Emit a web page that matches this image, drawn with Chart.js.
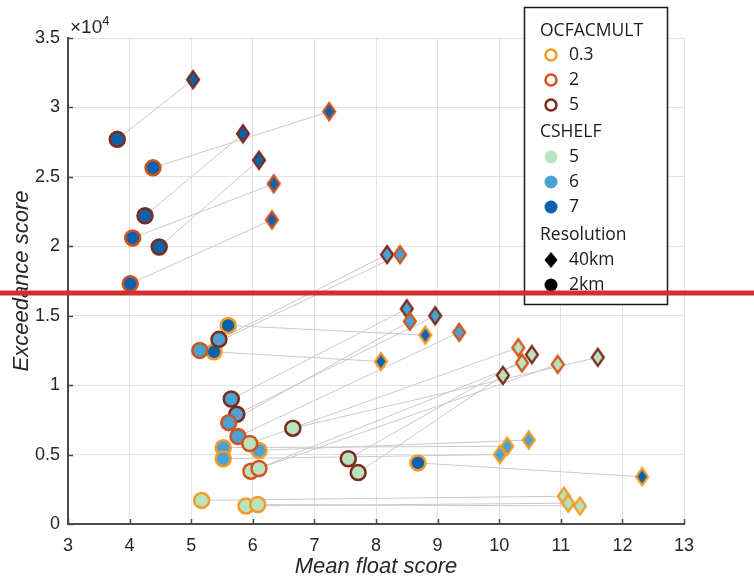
<!DOCTYPE html>
<html>
<head>
<meta charset="utf-8">
<script src="https://cdn.jsdelivr.net/npm/chart.js@4.4.1/dist/chart.umd.min.js"></script>
<style>
  html, body { margin: 0; padding: 0; background: #fff; }
  #wrap { width: 754px; height: 583px; position: relative; }
</style>
</head>
<body>
<div id="wrap"><canvas id="chart"></canvas></div>
<script>
// each run was done at 2km (circle) and 40km (diamond); a grey line joins the pair
const runOcf    = [5, 5, 5, 2, 2, 2, 0.3, 0.3, 0.3, 5, 5, 5, 2, 2, 2, 0.3, 0.3, 0.3, 5, 5, 5, 2, 2, 2, 0.3, 0.3, 0.3];
const runCshelf = [7, 7, 7, 7, 7, 7, 7, 7, 7, 6, 6, 6, 6, 6, 6, 6, 6, 6, 5, 5, 5, 5, 5, 5, 5, 5, 5];

const x2km  = [3.80, 4.25, 4.48, 4.38, 4.05, 4.01, 5.60, 5.37, 8.68, 5.45, 5.65, 5.74, 5.14, 5.61, 5.76, 6.10, 5.52, 5.52, 6.65, 7.55, 7.71, 5.95, 5.97, 6.10, 5.17, 5.89, 6.08];
const y2km  = [27700, 22200, 19950, 25650, 20600, 17300, 14300, 12400, 4400, 13300, 9000, 7900, 12500, 7300, 6300, 5300, 5500, 4700, 6900, 4700, 3700, 5800, 3800, 4000, 1700, 1300, 1400];
const x40km = [5.03, 5.84, 6.10, 7.24, 6.34, 6.31, 8.80, 8.08, 12.32, 8.18, 8.50, 8.96, 8.39, 8.55, 9.35, 10.48, 10.13, 10.01, 11.60, 10.53, 10.06, 10.31, 10.37, 10.95, 11.05, 11.12, 11.31];
const y40km = [32000, 28100, 26200, 29700, 24500, 21900, 13600, 11700, 3400, 19400, 15500, 15000, 19400, 14600, 13800, 6050, 5600, 5000, 12000, 12200, 10700, 12700, 11600, 11500, 2000, 1500, 1300];

const ocfLevels    = [0.3, 2, 5];
const cshelfLevels = [5, 6, 7];
const xTicks = [3, 4, 5, 6, 7, 8, 9, 10, 11, 12, 13];
const yTicks = [0, 5000, 10000, 15000, 20000, 25000, 30000, 35000];
const cutLine = 16640;   // red horizontal marker

const ocfEdge    = { 0.3: '#f39b27', 2: '#d4531c', 5: '#7c2a1c' };
const cshelfFill = { 5: '#b8e3bd', 6: '#4aa2d2', 7: '#0b62aa' };
const FONT = "'Liberation Sans', Arial, sans-serif";
const LEGEND_FONT = "'Open Sans', 'Noto Sans', sans-serif";
const INK = '#262626';

function diamondCanvas(fill, edge) {
    const w = 12, h = 17, lw = 2.2;
    const c = document.createElement('canvas');
    c.width = w + lw * 2 + 2;
    c.height = h + lw * 2 + 2;
    const g = c.getContext('2d');
    const cx = c.width / 2, cy = c.height / 2;
    g.beginPath();
    g.moveTo(cx, cy - h / 2);
    g.lineTo(cx + w / 2, cy);
    g.lineTo(cx, cy + h / 2);
    g.lineTo(cx - w / 2, cy);
    g.closePath();
    g.fillStyle = fill;
    g.fill();
    g.lineWidth = lw;
    g.strokeStyle = edge;
    g.stroke();
    return c;
}

const circleData  = x2km.map((x, i) => ({ x: x, y: y2km[i] }));
const diamondData = x40km.map((x, i) => ({ x: x, y: y40km[i] }));
const fills = runCshelf.map(c => cshelfFill[c]);
const edges = runOcf.map(o => ocfEdge[o]);
const diamondStyles = runOcf.map((o, i) => diamondCanvas(fills[i], edges[i]));

const linkSets = x2km.map((x, i) => ({
    data: [{ x: x, y: y2km[i] }, { x: x40km[i], y: y40km[i] }],
    showLine: true,
    borderColor: '#c9c9c9',
    borderWidth: 1,
    pointRadius: 0,
    order: 1
}));

// MATLAB-ish extras: inward ticks, x10^4 label, legend box, red cut line
const extrasPlugin = {
    id: 'extras',
    afterDraw(chart) {
        const ctx = chart.ctx;
        const xs = chart.scales.x, ys = chart.scales.y;
        const area = chart.chartArea;
        ctx.save();

        // inward ticks
        ctx.strokeStyle = '#4a4a4a';
        ctx.lineWidth = 1.5;
        ctx.beginPath();
        xTicks.forEach(v => {
            const px = Math.round(xs.getPixelForValue(v)) + 0.5;
            ctx.moveTo(px, area.bottom);
            ctx.lineTo(px, area.bottom - 5);
        });
        yTicks.forEach(v => {
            const py = Math.round(ys.getPixelForValue(v)) + 0.5;
            ctx.moveTo(area.left, py);
            ctx.lineTo(area.left + 5, py);
        });
        ctx.stroke();

        // exponent label
        ctx.fillStyle = INK;
        ctx.textBaseline = 'alphabetic';
        ctx.textAlign = 'left';
        ctx.font = '19px ' + FONT;
        ctx.fillText('\u00d710', area.left + 2, area.top - 5);
        const w = ctx.measureText('\u00d710').width;
        ctx.font = '13px ' + FONT;
        ctx.fillText('4', area.left + 2 + w, area.top - 13);

        // legend
        const lx = 524, ly = 7, lw = 143, lh = 297;
        ctx.fillStyle = '#fff';
        ctx.fillRect(lx, ly, lw, lh);
        ctx.strokeStyle = '#1a1a1a';
        ctx.lineWidth = 1.5;
        ctx.strokeRect(lx + 0.5, ly + 0.5, lw, lh);

        const headX = 540, mX = 551, tX = 569;
        ctx.textBaseline = 'middle';
        ctx.font = '17.5px ' + LEGEND_FONT;
        const text = (s, x, y) => { ctx.fillStyle = '#1a1a1a'; ctx.fillText(s, x, y); };

        text('OCFACMULT', headX, 31);
        ocfLevels.forEach((o, i) => {
            const y = 55 + i * 25;
            ctx.beginPath();
            ctx.arc(mX, y, 5.5, 0, Math.PI * 2);
            ctx.lineWidth = 2.5;
            ctx.strokeStyle = ocfEdge[o];
            ctx.stroke();
            text(String(o), tX, y);
        });
        text('CSHELF', headX, 132);
        cshelfLevels.forEach((c, i) => {
            const y = 157 + i * 25;
            ctx.beginPath();
            ctx.arc(mX, y, 6.5, 0, Math.PI * 2);
            ctx.fillStyle = cshelfFill[c];
            ctx.fill();
            text(String(c), tX, y);
        });
        text('Resolution', headX, 235);
        ctx.fillStyle = '#000';
        ctx.beginPath();
        ctx.moveTo(mX, 252); ctx.lineTo(mX + 6.5, 260); ctx.lineTo(mX, 268); ctx.lineTo(mX - 6.5, 260);
        ctx.closePath();
        ctx.fill();
        text('40km', tX, 260);
        ctx.beginPath();
        ctx.fillStyle = '#000';
        ctx.arc(mX, 285, 6.5, 0, Math.PI * 2);
        ctx.fill();
        text('2km', tX, 285);

        // red cut line across the whole picture
        const ry = ys.getPixelForValue(cutLine);
        ctx.strokeStyle = '#d0302f';
        ctx.lineWidth = 5;
        ctx.beginPath();
        ctx.moveTo(0, ry);
        ctx.lineTo(chart.width, ry);
        ctx.stroke();

        ctx.restore();
    }
};

new Chart(document.getElementById('chart'), {
    type: 'scatter',
    data: {
        datasets: [
            {
                data: circleData,
                pointStyle: 'circle',
                pointRadius: 7.5,
                pointBorderWidth: 2.5,
                pointBackgroundColor: fills,
                pointBorderColor: edges,
                order: 0
            },
            {
                data: diamondData,
                pointStyle: diamondStyles,
                pointRadius: 8,
                order: 0
            },
            ...linkSets
        ]
    },
    options: {
        responsive: true,
        maintainAspectRatio: false,
        animation: false,
        layout: { padding: { top: 38, right: 70, left: 0, bottom: 0 } },
        plugins: {
            legend: { display: false },
            tooltip: { enabled: false }
        },
        scales: {
            x: {
                type: 'linear',
                min: 3, max: 13,
                afterFit: s => { s.height = 59; },
                afterBuildTicks: s => { s.ticks = xTicks.map(v => ({ value: v })); },
                ticks: { color: INK, font: { family: FONT, size: 18 }, padding: 11, maxRotation: 0 },
                grid: { color: '#e2e2e2', drawTicks: false },
                border: { color: '#4a4a4a', width: 2 },
                title: {
                    display: true,
                    text: 'Mean float score',
                    color: INK,
                    font: { family: FONT, size: 22, style: 'italic' },
                    padding: { top: 0, bottom: 3 }
                }
            },
            y: {
                type: 'linear',
                min: 0, max: 35000,
                afterFit: s => { s.width = 68; },
                afterBuildTicks: s => { s.ticks = yTicks.map(v => ({ value: v })); },
                ticks: {
                    color: INK,
                    font: { family: FONT, size: 18 },
                    padding: 8,
                    callback: v => String(v / 10000)
                },
                grid: { color: '#e2e2e2', drawTicks: false },
                border: { color: '#4a4a4a', width: 2 },
                title: {
                    display: true,
                    text: 'Exceedance score',
                    color: INK,
                    font: { family: FONT, size: 22, style: 'italic' },
                    padding: { top: 9, bottom: 0 }
                }
            }
        }
    },
    plugins: [extrasPlugin]
});
</script>
</body>
</html>
